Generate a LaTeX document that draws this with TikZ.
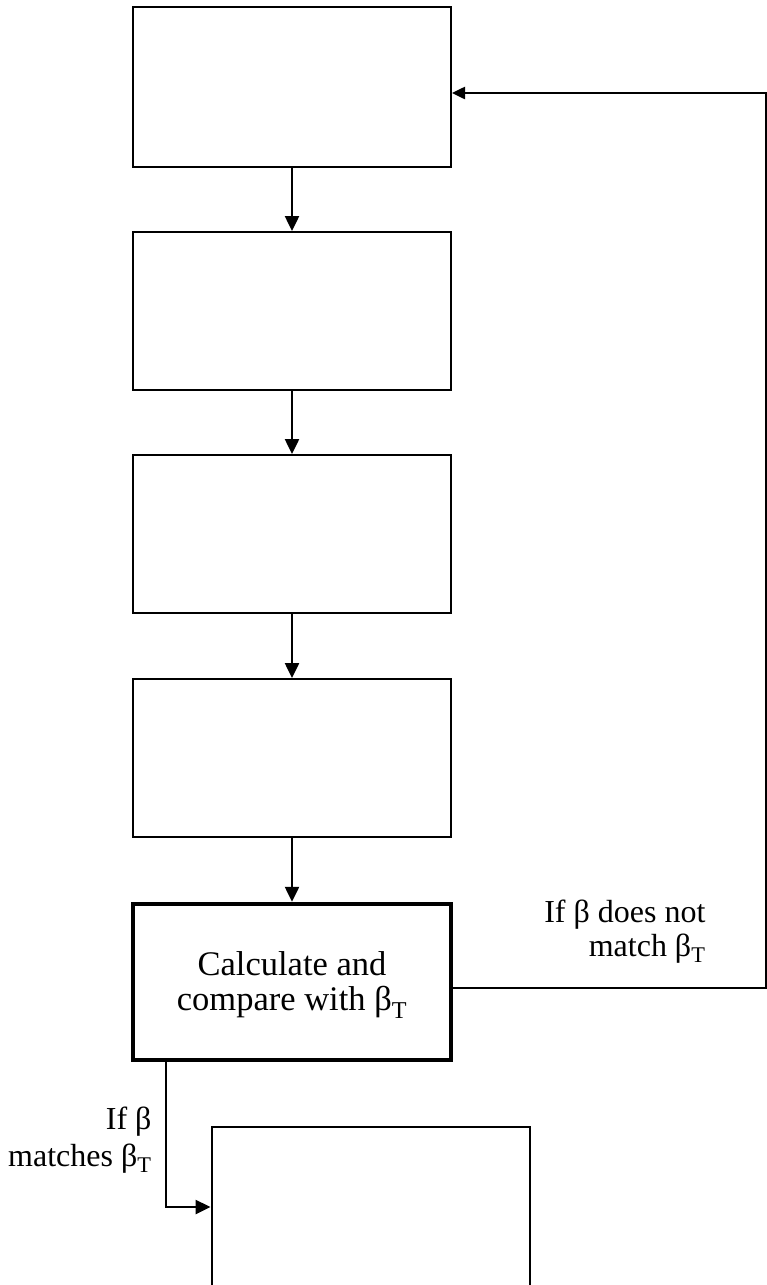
\documentclass[tikz,border=0pt]{standalone}
\usepackage{fontspec}
\setmainfont{Liberation Serif}
\usetikzlibrary{arrows.meta}
\tikzset{
    stepbox/.style = {draw, line width=2pt, minimum width=318pt, minimum height=158pt, inner sep=0pt},
    flow/.style = {line width=2.5pt, -{Triangle[length=15pt, width=14pt]}},
    label/.style = {align=right, font=\fontsize{32}{34}\selectfont}
}
\begin{document}
\begin{tikzpicture}[x=1pt, y=-1pt, color = {black}, font=\fontsize{34.5}{35}\selectfont]
    \useasboundingbox (0,0) rectangle (767,1285);
    \clip (0,0) rectangle (767,1285);
    \node[stepbox, minimum height=160pt] (box1) at (292,87) {};
    \node[stepbox] (box2) at (292,311) {};
    \node[stepbox] (box3) at (292,534) {};
    \node[stepbox] (box4) at (292,758) {};
    \node[stepbox, line width=4.5pt, minimum height=156pt] (box5) at (292,982) {};
    \node[align=center, inner sep=0pt] (calc) at (292,985) {Calculate and\\compare with β\textsubscript{T}};
    \node[stepbox, minimum height=160pt] (box6) at (370.5,1207) {};
    \draw[flow] (box1) -- (box2);
    \draw[flow] (box2) -- (box3);
    \draw[flow] (box3) -- (box4);
    \draw[flow] (box4) -- (box5);
    \coordinate (fbB) at (766,988);
    \coordinate (fbT) at (766,93);
    \draw[flow, -{Triangle[length=13pt, width=12pt]}] (box5.east |- fbB) -- (fbB) -- (fbT) -- (fbT -| box1.east);
    \coordinate (ok) at (166,1207);
    \draw[flow] (box5.south -| ok) -- (ok) -- (box6.west);
    \node[label, anchor=east] (nomatch) at (709,932) {If β does not\\match β\textsubscript{T}};
    \node[label, anchor=east, font=\fontsize{32}{37}\selectfont] (match) at (155,1140) {If β\\matches β\textsubscript{T}};
\end{tikzpicture}
\end{document}
